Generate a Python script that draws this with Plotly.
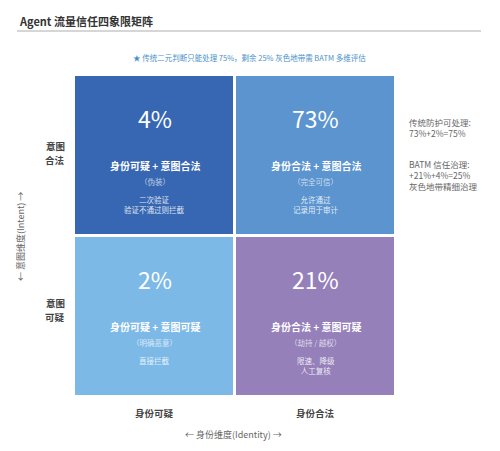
import plotly.graph_objects as go

OFF = 8  # page body margin of the browser
W, H = 500 - OFF, 451 - OFF
L, R, T, B = 74 - OFF, 500 - 396, 75 - OFF, 451 - 397
PW, PH = W - L - R, H - T - B

# data
identity_labels = ["身份可疑", "身份合法"]
intent_labels = ["意图可疑", "意图合法"]
# rows: intent (bottom->top), cols: identity (left->right)
shares = [[2, 21], [4, 73]]
titles = [["身份可疑 + 意图可疑", "身份合法 + 意图可疑"],
          ["身份可疑 + 意图合法", "身份合法 + 意图合法"]]
tags = [["（明确恶意）", "（劫持 / 越权）"],
        ["（伪装）", "（完全可信）"]]
actions = [["直接拦截", "限速、降级<br>人工复核"],
           ["二次验证<br>验证不通过则拦截", "允许通过<br>记录用于审计"]]
color_idx = [[2, 3], [0, 1]]
palette = ["#3767B2", "#5B94CF", "#7CB9E7", "#9580BA"]

def px(x):
    return (x - OFF - L) / PW

def py(y):
    return 1 - (y - OFF - T) / PH

fig = go.Figure()
fig.add_trace(go.Heatmap(
    z=color_idx, x=[0, 1], y=[0, 1],
    colorscale=[[0, palette[0]], [1/3, palette[1]], [2/3, palette[2]], [1, palette[3]]],
    zmin=0, zmax=3, showscale=False, xgap=3, ygap=3, hoverinfo="skip"))

FONT = "Noto Sans CJK SC"
ann = []
for r in range(2):
    for c in range(2):
        base = dict(x=c, y=r, xref="x", yref="y", showarrow=False,
                    xanchor="center", yanchor="middle")
        ann.append(dict(base, text=f"{shares[r][c]}%", yshift=38,
                        font=dict(family=FONT, size=23, color="white")))
        ann.append(dict(base, text=f"<b>{titles[r][c]}</b>", yshift=-10,
                        font=dict(family=FONT, size=10, color="white")))
        ann.append(dict(base, text=tags[r][c], yshift=-26,
                        font=dict(family=FONT, size=7.5, color="rgba(255,255,255,0.7)")))
        ann.append(dict(base, text=actions[r][c], yshift=-49 if "<br>" in actions[r][c] else -44,
                        font=dict(family=FONT, size=7.5, color="rgba(255,255,255,0.85)")))

for c, lab in enumerate(identity_labels):
    ann.append(dict(x=c, y=py(413), xref="x", yref="paper", showarrow=False,
                    xanchor="center", yanchor="middle",
                    text=f"<b>{lab}</b>", font=dict(family=FONT, size=9.5, color="#444")))
row_shift = [0, 4]
for r, lab in enumerate(intent_labels):
    for k, part in enumerate([lab[:2], lab[2:]]):
        ann.append(dict(x=px(67), y=r, xref="paper", yref="y", showarrow=False,
                        xanchor="right", yanchor="middle",
                        yshift=14 - row_shift[r] - 14 * k,
                        text=f"<b>{part}</b>", align="right",
                        font=dict(family=FONT, size=9.5, color="#444")))

ann.append(dict(x=px(233), y=py(434), xref="paper", yref="paper", showarrow=False,
                xanchor="center", yanchor="middle",
                text="← 身份维度(Identity) →", font=dict(family=FONT, size=9, color="#666")))
ann.append(dict(x=px(20), y=py(236), xref="paper", yref="paper", showarrow=False,
                xanchor="center", yanchor="middle",
                text="← 意图维度(Intent) →", textangle=-90,
                font=dict(family=FONT, size=9, color="#666")))

ann.append(dict(x=px(17), y=py(21), xref="paper", yref="paper", showarrow=False,
                xanchor="left", yanchor="middle", text="<b>Agent 流量信任四象限矩阵</b>",
                font=dict(family=FONT, size=11, color="#333")))
ann.append(dict(x=px(249), y=py(57), xref="paper", yref="paper", showarrow=False,
                xanchor="center", yanchor="middle",
                text="★ 传统二元判断只能处理 75%，剩余 25% 灰色地带需 BATM 多维评估",
                font=dict(family=FONT, size=7.5, color="#4A90C8")))

ann.append(dict(x=px(407), y=py(127), xref="paper", yref="paper", showarrow=False,
                xanchor="left", yanchor="middle", align="left", text="传统防护可处理:<br>73%+2%=75%",
                font=dict(family=FONT, size=8.5, color="#666")))
ann.append(dict(x=px(407), y=py(175), xref="paper", yref="paper", showarrow=False,
                xanchor="left", yanchor="middle", align="left",
                text="BATM 信任治理:<br>+21%+4%=25%<br>灰色地带精细治理",
                font=dict(family=FONT, size=8.5, color="#666")))

fig.update_layout(
    width=W, height=H, margin=dict(l=L, r=R, t=T, b=B),
    paper_bgcolor="white", plot_bgcolor="white",
    xaxis=dict(range=[-0.5, 1.5], visible=False, fixedrange=True),
    yaxis=dict(range=[-0.5, 1.5], visible=False, fixedrange=True),
    annotations=ann,
    shapes=[dict(type="line", xref="paper", yref="paper", x0=px(17), x1=px(481),
                 y0=py(31), y1=py(31), line=dict(color="#D6D6D6", width=2))],
)
fig.write_html("out.html")
